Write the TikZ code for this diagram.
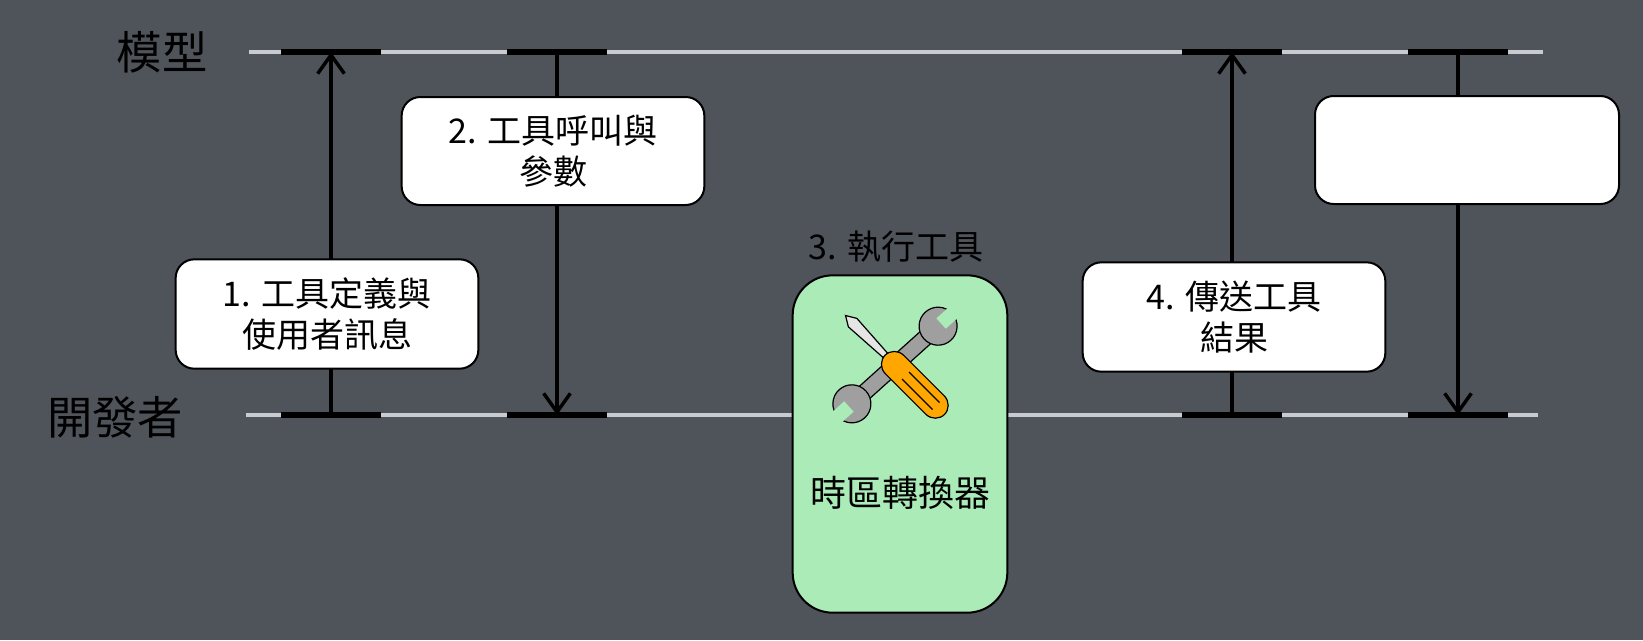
\documentclass[tikz,border=0pt]{standalone}
\usepackage{fontspec}
\setmainfont{Noto Sans CJK TC}
\usetikzlibrary{arrows.meta}
\definecolor{bg}{HTML}{4F535A}
\definecolor{lanecol}{HTML}{C8CBD0}
\definecolor{gr}{HTML}{ABEBB7}
\begin{document}
\begin{tikzpicture}[x=0.75pt,y=-0.75pt,
  lane/.style={line width=3pt,lanecol},
  tick/.style={line width=4.5pt,black},
  msg/.style={line width=2.6pt,black,-{Straight Barb[length=14pt,width=20pt,line width=2.6pt]}},
  box/.style={draw=black,line width=1.5pt,fill=white,rounded corners=14pt,align=center,font=\fontsize{25.5}{31}\selectfont,inner sep=0pt},
  lbl/.style={font=\fontsize{34}{38}\selectfont}]
\fill[bg] (0,0) rectangle (1643,640);
\useasboundingbox (0,0) rectangle (1643,640);
\node[lbl,text=black] (m) at (162,52) {模型};
\node[lbl,text=black] (d) at (115,417) {開發者};
\draw[lane] (249,52) -- (1543,52);
\draw[lane] (246,415) -- (1538,415);
% ticks
\foreach \x in {331,557,1232,1458}{
  \draw[tick] (\x-50,52) -- (\x+50,52);
  \draw[tick] (\x-50,415) -- (\x+50,415);}
\coordinate (a1s) at (331,415); \coordinate (a1e) at (331,52);
\coordinate (a2s) at (557,52); \coordinate (a2e) at (557,415);
\coordinate (a4s) at (1232,415); \coordinate (a4e) at (1232,52);
\coordinate (a5s) at (1458,52); \coordinate (a5e) at (1458,415);
\draw[msg] (a1s) -- (a1e);
\draw[msg] (a2s) -- (a2e);
\draw[msg] (a4s) -- (a4e);
\draw[msg] (a5s) -- (a5e);
\node[box,minimum width=227pt,minimum height=82pt] (b1) at (327,314) {1. 工具定義與\\使用者訊息};
\node[box,minimum width=227pt,minimum height=81pt] (b2) at (553,151) {2. 工具呼叫與\\參數};
\node[box,minimum width=227pt,minimum height=82pt] (b4) at (1234,317) {4. 傳送工具\\結果};
\node[box,minimum width=228pt,minimum height=81pt] (b5) at (1467,150) {};
\node[font=\fontsize{25.5}{30}\selectfont,text=black] (t3) at (896,247) {3. 執行工具};
\node[draw=black,line width=1.5pt,fill=gr,rounded corners=30pt,minimum width=161pt,minimum height=253pt,inner sep=0pt] (g) at (900,444) {};
\node[font=\fontsize{27}{30}\selectfont,text=black] (gt) at (900,493) {時區轉換器};
% icon: wrench
\begin{scope}[shift={(895,365)},rotate=42]
  \draw[line width=0.9pt,fill=gray!75] (-55,-8) rectangle (55,8);
  \foreach \s in {-1,1}{
    \draw[line width=0.9pt,fill=gray!75] (\s*58,0) circle (19);
    \fill[gr] (\s*60+\s*2,-7) rectangle (\s*82,7);
    \fill[gray!75] (\s*45,-7) rectangle (\s*52,7);}
\end{scope}
% screwdriver
\begin{scope}[shift={(895,365)},rotate=-45]
  \draw[line width=0.9pt,fill=gray!20] (-70,0) -- (-60,-6) -- (-12,-3) -- (-12,3) -- (-60,6) -- cycle;
  \draw[line width=0.9pt,fill=orange!70!yellow,rounded corners=10pt] (-14,-13) rectangle (70,13);
  \draw[line width=0.9pt] (15,-5) -- (58,-5) (15,5) -- (58,5);
\end{scope}
\end{tikzpicture}
\end{document}
